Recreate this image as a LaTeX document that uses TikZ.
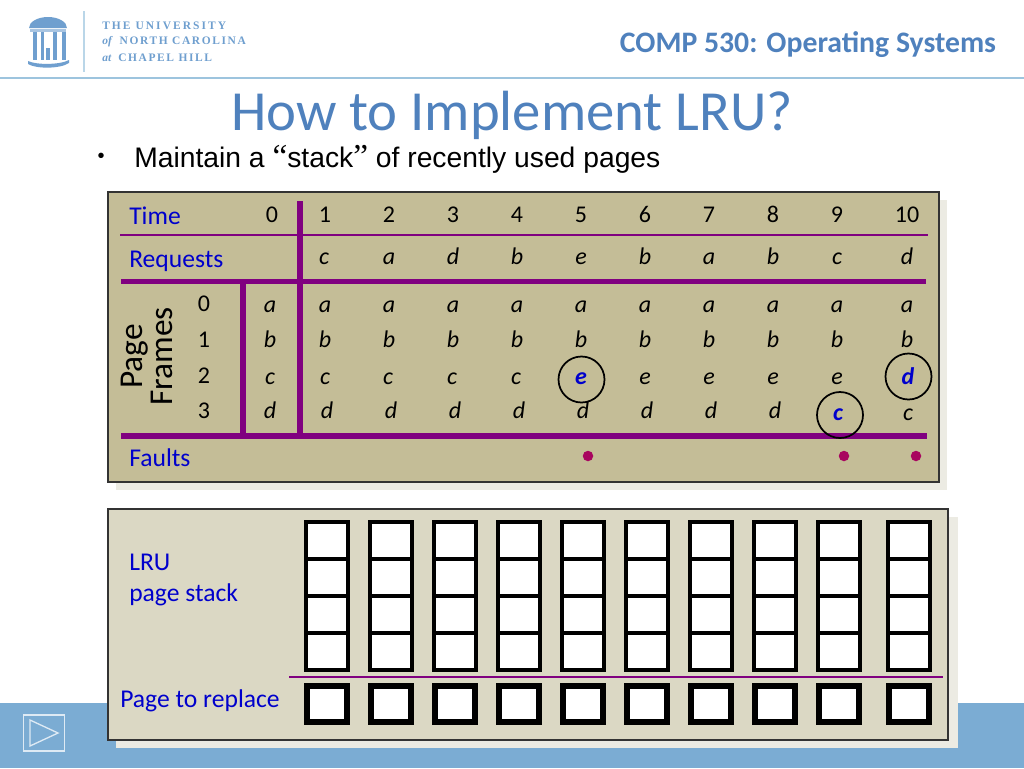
\documentclass[tikz,border=0pt]{standalone}
\usepackage{fontspec}
\setmainfont{Carlito}
\newfontfamily\arialfont{Liberation Sans}
\newfontfamily\timesfont{Liberation Serif}
\usepackage{xcolor}
\definecolor{uncblue}{HTML}{7BACD3}
\definecolor{headline}{HTML}{9DC4DE}
\definecolor{titleblue}{HTML}{4F81BD}
\definecolor{logoblue}{HTML}{6F9FCF}
\definecolor{tanpanel}{HTML}{C4BD97}
\definecolor{palepanel}{HTML}{DBD8C4}
\definecolor{panelshadow}{HTML}{ECEBE3}
\definecolor{barpurple}{HTML}{800080}
\definecolor{dotred}{HTML}{A8055F}
\definecolor{labelblue}{HTML}{0000CC}
\tikzset{
    tabletext/.style={font=\fontsize{18}{18}\selectfont,inner sep=0pt,anchor=base},
    pagetext/.style={font=\fontsize{18}{18}\selectfont\itshape,inner sep=0pt,anchor=base},
    bluetext/.style={font=\fontsize{19.2}{23}\selectfont,text=labelblue,inner sep=0pt,anchor=base west},
    newpage/.style={font=\fontsize{18}{18}\selectfont\itshape\bfseries,text=labelblue,inner sep=0pt,anchor=base},
    logotext/.style={font=\fontsize{8.6}{8.6}\selectfont\timesfont\bfseries,text=logoblue,inner sep=0pt,anchor=west},
    stackcell/.style={draw=black,line width=3pt,fill=white,minimum width=41.5*0.75pt,minimum height=37*0.75pt,inner sep=0pt},
    replacecell/.style={draw=black,line width=4pt,fill=white,minimum width=40*0.75pt,minimum height=36*0.75pt,inner sep=0pt},
    ringmark/.style={draw=black,line width=1.3pt,circle,minimum size=46*0.75pt,inner sep=0pt},
    faultdot/.style={circle,fill=dotred,minimum size=10.5*0.75pt,inner sep=0pt}
}

\begin{document}
\begin{tikzpicture}[x=0.75pt,y=-0.75pt]
        \useasboundingbox (0,0) rectangle (1024,768);
        \fill[white] (0,0) rectangle (1024,768);

        % header
        \fill[uncblue] (0,703) rectangle (1024,768);
        \draw[headline,line width=1pt] (0,78) -- (1024,78);
        \draw[headline!70,line width=0.8pt] (84,11) -- (84,72);

        % logo
        \fill[logoblue] (29,28) arc (180:360:19 and 11) -- cycle;
        \fill[logoblue!60] (30,29) rectangle (66,32);
        \foreach \x/\w in {33/4,41/3,53/4,62/4}
            \fill[logoblue] (\x,32) rectangle (\x+\w,60);
        \fill[logoblue] (46,48) rectangle (50,60);
        \fill[logoblue] (28,61) .. controls (36,65) and (60,65) .. (69,60) -- (69,63) .. controls (60,69) and (36,69) .. (28,64) -- cycle;
        \node[logotext] (uni)   at (102,25.5) {\addfontfeature{LetterSpace=18}THE UNIVERSITY};
        \node[logotext] (unc)   at (102,42)   {\textit{of}\hspace{3pt} \addfontfeature{LetterSpace=14}NORTH CAROLINA};
        \node[logotext] (hill)  at (102,58)   {\textit{at}\hspace{3pt} \addfontfeature{LetterSpace=14}CHAPEL HILL};

        \node[font=\fontsize{22.3}{22.3}\selectfont\bfseries,text=titleblue,inner sep=0pt] (course) at (808,44.5) {COMP 530: Operating Systems};
        \node[font=\fontsize{42.5}{42.5}\selectfont,text=titleblue,inner sep=0pt,anchor=base] (title) at (512,130) {How to Implement LRU?};
        \node[font=\fontsize{15}{15}\selectfont\arialfont,inner sep=0pt] (bullet) at (101,158) {•};
        \node[font=\fontsize{21.2}{21.2}\selectfont\arialfont,inner sep=0pt,anchor=base west] (point) at (134,167) {Maintain a {\timesfont\fontsize{25}{25}\selectfont“}stack{\timesfont\fontsize{25}{25}\selectfont”} of recently used pages};

        % upper panel
        \fill[panelshadow] (116,200) rectangle (947,490);
        \draw[fill=tanpanel,draw=black!80,line width=1pt] (108,192) rectangle (939,482);

        \coordinate (A) at (120,235);
        \coordinate (B) at (928,235);
        \coordinate (C) at (121,281.5);
        \coordinate (D) at (926,281.5);
        \coordinate (E) at (121,436);
        \coordinate (F) at (927,436);
        \coordinate (G) at (300,201);
        \coordinate (H) at (300,436);
        \coordinate (I) at (243,284);
        \coordinate (J) at (243,436);

        \draw[barpurple,line width=1pt] (A) -- (B);
        \draw[barpurple,line width=4pt] (C) -- (D);
        \draw[barpurple,line width=4pt] (E) -- (F);
        \draw[barpurple,line width=4pt] (G) -- (H);
        \draw[barpurple,line width=4pt] (I) -- (J);

        \node[bluetext] (time)     at (129,224) {Time};
        \node[bluetext] (requests) at (129,267) {Requests};
        \node[bluetext] (faults)   at (129,466.5) {Faults};
        \node[font=\fontsize{25}{22}\selectfont,rotate=90,align=center,inner sep=0pt] (frames) at (147,356.5) {Page\\Frames};

        \foreach \x/\t in {272/0,325/1,389/2,453/3,517/4,581/5,645/6,709/7,773/8,837/9,907/10}
            \node[tabletext] (time\t) at (\x,222) {\t};
        \foreach \x/\r [count=\i] in {324/c,389/a,453/d,517/b,581/e,645/b,709/a,773/b,837/c,907/d}
            \node[pagetext] (req\i) at (\x,264) {\r};
        \foreach \y/\f in {311/0,347/1,383/2,418/3}
            \node[tabletext] (frame\f) at (204,\y) {\f};

        % page frames over time
        \foreach \x/\n in {270/0,325/1,389/2,453/3,517/4,581/5,645/6,709/7,773/8,837/9,907/10}
            \node[pagetext] (a\n) at (\x,312) {a};
        \foreach \x/\n in {270/0,325/1,389/2,453/3,517/4,581/5,645/6,709/7,773/8,837/9,907/10}
            \node[pagetext] (b\n) at (\x,347.5) {b};
        \foreach \x/\n in {270/0,325/1,388/2,452/3,516/4}
            \node[pagetext] (c\n) at (\x,384) {c};
        \foreach \x/\n in {645/6,709/7,773/8,837/9}
            \node[pagetext] (e\n) at (\x,384) {e};
        \foreach \x/\n in {270/0,327/1,391/2,455/3,519/4,583/5,647/6,711/7,775/8}
            \node[pagetext] (d\n) at (\x,418) {d};
        \node[pagetext] (c10) at (908,420) {c};

        \node[newpage] (e5)  at (581,384) {e};
        \node[newpage] (c9)  at (838,420) {c};
        \node[newpage] (d10) at (908,384) {d};
        \node[ringmark] (ring5)  at (581.5,379.5) {};
        \node[ringmark] (ring9)  at (840,415) {};
        \node[ringmark] (ring10) at (908.5,376.5) {};

        \node[faultdot] (fault5)  at (588,456) {};
        \node[faultdot] (fault9)  at (844,456) {};
        \node[faultdot] (fault10) at (916,456) {};

        % lower panel
        \fill[panelshadow] (116,517) rectangle (958,748);
        \draw[fill=palepanel,draw=black!80,line width=1pt] (108,509) rectangle (948,740);

        \node[bluetext] (lru)     at (129,570.5) {LRU};
        \node[bluetext] (stack)   at (129,601)   {page stack};
        \node[bluetext] (replace) at (120,707)   {Page to replace};

        \coordinate (K) at (289,677);
        \coordinate (L) at (943,677);
        \draw[barpurple,line width=1.5pt] (K) -- (L);

        \foreach \x [count=\i] in {327,391,455,519,583,647,711,775,839,909} {
            \foreach \y/\r in {540/0,577/1,614/2,651/3}
                \node[stackcell] (stack\i\r) at (\x,\y) {};
            \node[replacecell] (replace\i) at (\x,704) {};
        }

        % play button
        \draw[white!75!uncblue,line width=1pt] (23.5,715) rectangle (64.5,751);
        \draw[white!75!uncblue,line width=1pt] (30,720) -- (58,733) -- (30,746) -- cycle;
    \end{tikzpicture}
\end{document}
